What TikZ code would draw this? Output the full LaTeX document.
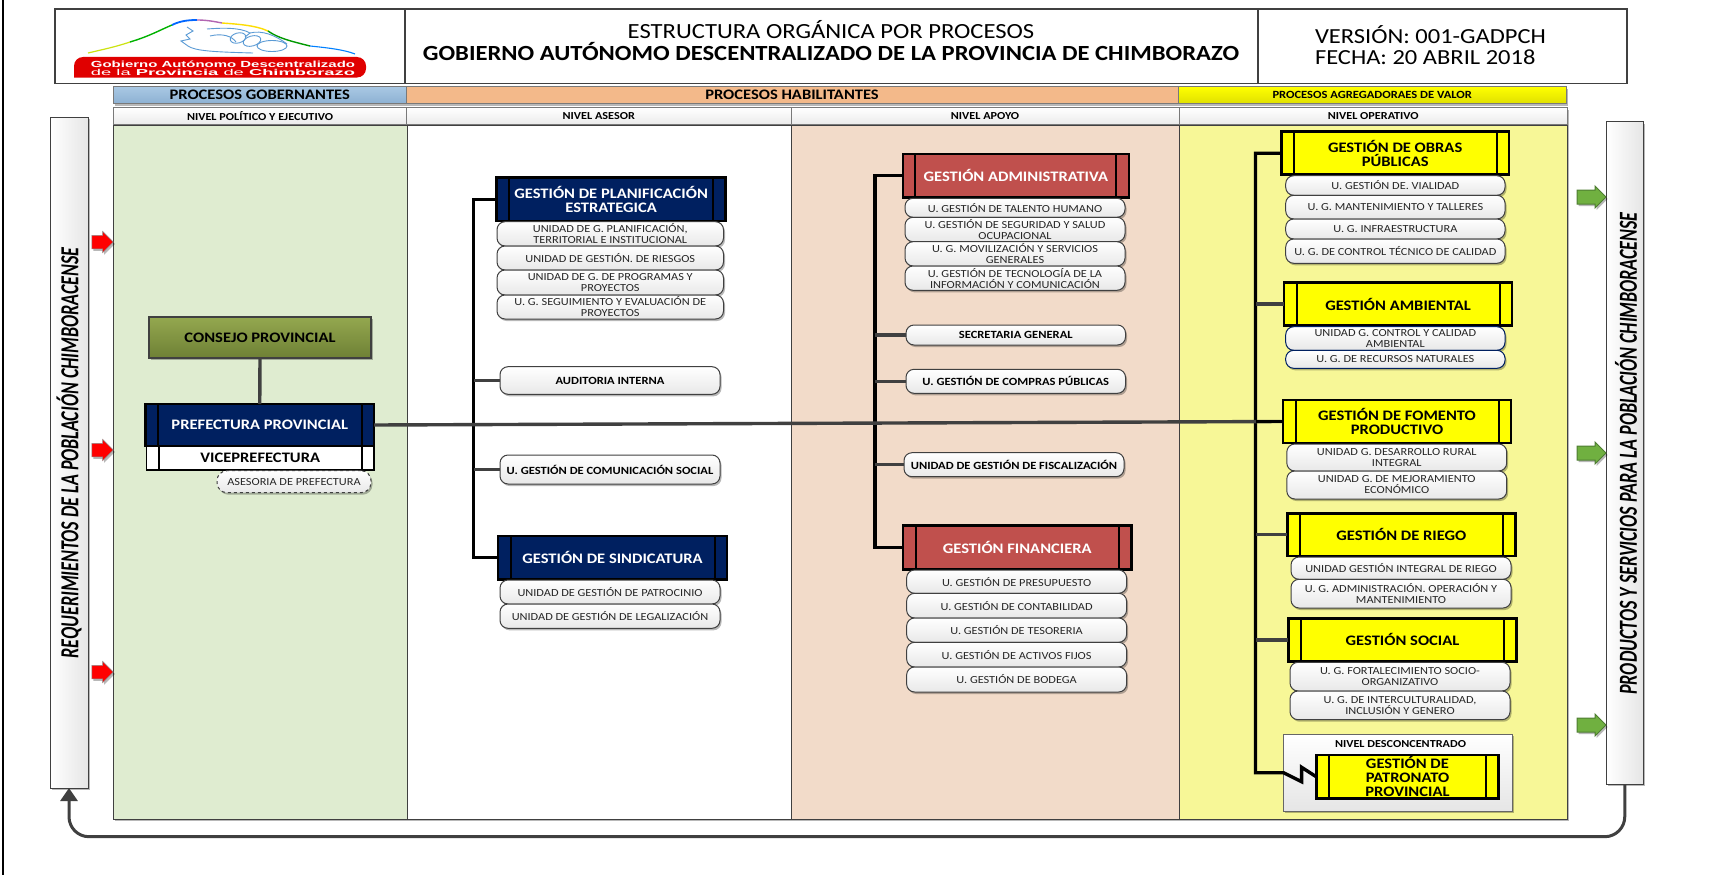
\documentclass[tikz,border=0pt]{standalone}
\usepackage{graphicx}
\usepackage{fontspec}
\setmainfont{Carlito}[FakeStretch=1.14]
\newfontfamily\logofont{Liberation Sans}
\usepackage{tikz}
\usetikzlibrary{calc,arrows.meta,positioning,shadows,shapes.arrows}
\definecolor{navy}{HTML}{002060}
\definecolor{brick}{HTML}{C0504D}
\definecolor{linegray}{HTML}{404040}
\definecolor{goldfill}{HTML}{FFFF00}
\definecolor{handblue}{HTML}{5B9BD5}
\definecolor{leaf}{HTML}{70B040}
\definecolor{leafline}{HTML}{4E7D32}
\tikzset{
    every node/.style={inner sep=0pt,outer sep=0pt,align=center},
    softshadow/.style={drop shadow={shadow xshift=1.5pt,shadow yshift=-2pt,fill=black,opacity=0.28}},
    head cell/.style={draw=linegray,line width=1.2pt,fill=white},
    band cell/.style={draw=linegray!70,line width=1pt,font=\bfseries\fontsize{14.5}{16}\selectfont,softshadow},
    level cell/.style={draw=linegray!70,line width=1pt,top color=white,bottom color=black!8,font=\bfseries\fontsize{10.7}{11}\selectfont,softshadow},
    column cell/.style={draw=linegray,line width=1pt,softshadow},
    side bar/.style={draw=linegray,line width=1pt,left color=white,right color=black!10,softshadow},
    proc box/.style={draw=black,line width=2.6pt,font=\bfseries\fontsize{14.5}{14}\selectfont,
        path picture={
            \draw[black,line width=2pt] ([xshift=12.5pt]path picture bounding box.north west) -- ([xshift=12.5pt]path picture bounding box.south west);
            \draw[black,line width=2pt] ([xshift=-12.5pt]path picture bounding box.north east) -- ([xshift=-12.5pt]path picture bounding box.south east);
        }},
    navy box/.style={proc box,fill=navy,text=white},
    brick box/.style={proc box,fill=brick,text=white},
    gold box/.style={proc box,fill=goldfill,text=black},
    sub box/.style={draw=linegray,line width=1pt,rounded corners=8pt,top color=white,bottom color=black!9,
        text=black!85,font=\fontsize{10.8}{11}\selectfont,softshadow},
    key box/.style={sub box,text=black,font=\bfseries\fontsize{11}{12}\selectfont},
    blue box/.style={sub box,draw=navy},
    trunk/.style={draw=black,line width=3.4pt,line join=miter},
    branch/.style={draw=linegray,line width=3.4pt},
    red arrow/.style={single arrow,single arrow head extend=4pt,inner ysep=6.5pt,minimum height=21.5pt,
        draw=linegray!60,line width=0.5pt,fill=red,softshadow},
    green arrow/.style={single arrow,single arrow head extend=4pt,inner ysep=6.5pt,minimum height=29pt,
        draw=leafline,line width=1pt,fill=leaf,softshadow},
    hand line/.style={handblue,line width=0.9pt},
}
\newcommand{\boxnode}[7]{\node[#1,minimum width={(#5-#3)*1pt},minimum height={(#6-#4)*1pt}] (#2) at ({(#3+#5)/2},{(#4+#6)/2}) {#7};}

\begin{document}
\begin{tikzpicture}[x=1pt,y=-1pt]

    \useasboundingbox (0,0) rectangle (1720,875);
    \draw[black,line width=2pt] (3,0) -- (3,875);

    % encabezado
    \boxnode{head cell}{logo}{55}{9}{405}{83.5}{}
    \boxnode{head cell}{title}{405}{9}{1258}{83.5}{}
    \boxnode{head cell}{version}{1258}{9}{1627}{83.5}{}
    \node[font=\fontsize{21.6}{22}\selectfont] (title a) at (831,30) {ESTRUCTURA ORGÁNICA POR PROCESOS};
    \node[font=\bfseries\fontsize{21.6}{22}\selectfont] (title b) at (831,51.5) {GOBIERNO AUTÓNOMO DESCENTRALIZADO DE LA PROVINCIA DE CHIMBORAZO};
    \node[anchor=west,font=\fontsize{21.5}{22}\selectfont] (version a) at (1315,34.5) {VERSIÓN: 001-GADPCH};
    \node[anchor=west,font=\fontsize{21.5}{22}\selectfont] (version b) at (1315,57.3) {FECHA: 20 ABRIL 2018};

    % logo
    \fill[red!88!black,rounded corners=9pt] (74,77.5) -- (74,57) -- (366,57) -- (366,77.5) [sharp corners] -- cycle;
    \node[text=white] (logo a) at (223,64) {\resizebox{264pt}{6.5pt}{\logofont\bfseries Gobierno Autónomo Descentralizado}};
    \node[text=white] (logo b) at (223,72.5) {\resizebox{264pt}{6.2pt}{\logofont de la \bfseries Provincia \mdseries de \bfseries Chimborazo}};
    \draw[line width=1.2pt,yellow!80!green] (88,53) .. controls (105,49) and (115,47) .. (130,42);
    \draw[line width=1.4pt,green!70!black] (130,42) .. controls (150,36) and (160,30) .. (172,25);
    \draw[line width=1.8pt,blue!60!cyan] (172,25) .. controls (180,21) and (188,20) .. (197,20);
    \draw[line width=1.4pt,violet!60] (197,20) .. controls (205,20) and (212,21) .. (222,23);
    \draw[line width=1.4pt,yellow!80!orange] (222,23) .. controls (235,24) and (255,25) .. (268,31);
    \draw[line width=1.4pt,green!60!black] (268,31) .. controls (278,38) and (290,41) .. (310,46);
    \draw[line width=1.1pt,blue!50!cyan] (310,46) .. controls (330,48) and (345,50) .. (355,54);
    \draw[hand line] (187,27) -- (193,31) -- (186,35) -- (190,39) -- (181,41) -- (188,46) .. controls (195,51) and (215,52) .. (253,53);
    \draw[hand line] (207,29) .. controls (220,28) and (240,27) .. (250,33) -- (245,37);
    \draw[hand line] (210,36) .. controls (222,33) and (232,36) .. (236,42);
    \draw[hand line,rotate around={15:(238,38)}] (238,38) ellipse [x radius=8,y radius=5];
    \draw[hand line,rotate around={15:(252,41)}] (252,41) ellipse [x radius=9,y radius=5];
    \draw[hand line] (272,46) ellipse [x radius=15,y radius=5.5];
    \draw[hand line] (250,33) .. controls (262,30) and (275,35) .. (287,44);

    % bandas de procesos
    \definecolor{bandtop}{HTML}{A9C8E3}
    \definecolor{bandlow}{HTML}{8DB1D3}
    \definecolor{bandmid}{HTML}{F3B98A}
    \boxnode{band cell,top color=bandtop,bottom color=bandlow}{band a}{113.5}{86.5}{406}{103.5}{PROCESOS GOBERNANTES}
    \boxnode{band cell,fill=bandmid}{band b}{406}{86.5}{1178}{103.5}{PROCESOS HABILITANTES}
    \boxnode{band cell,top color=goldfill,bottom color=goldfill!88!black,font=\bfseries\fontsize{11}{12}\selectfont}{band c}{1178}{86.5}{1566.5}{103.5}{PROCESOS AGREGADORAES DE VALOR}

    \boxnode{level cell}{level a}{113.5}{107.7}{406.5}{124.5}{NIVEL POLÍTICO Y EJECUTIVO}
    \boxnode{level cell}{level b}{406.5}{107.7}{791}{124.5}{NIVEL ASESOR}
    \boxnode{level cell}{level c}{791}{107.7}{1179}{124.5}{NIVEL APOYO}
    \boxnode{level cell}{level d}{1179}{107.7}{1567.5}{124.5}{NIVEL OPERATIVO}

    \definecolor{colgreen}{HTML}{DFECD0}
    \definecolor{colpeach}{HTML}{F2DBC9}
    \definecolor{colyellow}{HTML}{F7F797}
    \boxnode{column cell,fill=colgreen}{col a}{113.5}{125}{407}{819}{}
    \boxnode{column cell,fill=white}{col b}{407}{125}{791}{819}{}
    \boxnode{column cell,fill=colpeach}{col c}{791}{125}{1179}{819}{}
    \boxnode{column cell,fill=colyellow}{col d}{1179}{125}{1567}{819}{}

    % barras laterales
    \boxnode{side bar}{lbar}{50}{117}{88}{788}{}
    \boxnode{side bar}{rbar}{1606.5}{121.7}{1643}{784}{}
    \node[rotate=90,font=\bfseries\itshape\fontsize{26}{28}\selectfont] (lbar text) at (69,453) {\scalebox{0.608}[1]{REQUERIMIENTOS DE LA POBLACIÓN CHIMBORACENSE}};
    \node[rotate=90,font=\bfseries\itshape\fontsize{26}{28}\selectfont] (rbar text) at (1626,453.5) {\scalebox{0.608}[1]{PRODUCTOS Y SERVICIOS PARA LA POBLACIÓN CHIMBORACENSE}};

    \foreach \n/\y in {a/242,b/450,c/672} \node[red arrow] (red \n) at (99.2,\y) {};
    \foreach \n/\y in {a/197,b/453,c/725} \node[green arrow] (green \n) at (1588,\y) {};

    % nivel politico
    \definecolor{olivetop}{HTML}{94A84F}
    \definecolor{olivelow}{HTML}{6E8035}
    \boxnode{draw=linegray,line width=2pt,top color=olivetop,bottom color=olivelow,font=\bfseries\fontsize{14.5}{16}\selectfont,softshadow}{consejo}{149}{317}{371}{358}{CONSEJO PROVINCIAL}
    \boxnode{proc box,fill=white,draw=black,line width=1.4pt}{vice}{146.5}{446}{374}{470}{VICEPREFECTURA}
    \boxnode{navy box}{pref}{145.5}{404}{374}{446}{PREFECTURA PROVINCIAL}
    \boxnode{sub box,dashed,rounded corners=10pt}{asesor}{217}{470.7}{371}{492.7}{ASESORIA DE PREFECTURA}
    \draw[branch] (consejo.south) -- (pref.north);

    % nivel asesor
    \coordinate (trunk a) at (473.5,0);
    \boxnode{navy box}{plan}{496.5}{177.7}{725.7}{221}{GESTIÓN DE PLANIFICACIÓN\\ESTRATEGICA}
    \boxnode{sub box}{plan a}{497}{221.7}{723.5}{246}{UNIDAD DE G. PLANIFICACIÓN,\\TERRITORIAL E INSTITUCIONAL}
    \boxnode{sub box}{plan b}{497}{246}{723.5}{270}{UNIDAD DE GESTIÓN. DE RIESGOS}
    \boxnode{sub box}{plan c}{497}{270}{723.5}{295}{UNIDAD DE G. DE PROGRAMAS Y\\PROYECTOS}
    \boxnode{sub box}{plan d}{497}{295}{723.5}{319}{U. G. SEGUIMIENTO Y EVALUACIÓN DE\\PROYECTOS}
    \boxnode{key box}{audit}{500}{366.7}{720}{394.3}{AUDITORIA INTERNA}
    \boxnode{key box}{comu}{500}{455}{720}{484}{U. GESTIÓN DE COMUNICACIÓN SOCIAL}
    \boxnode{navy box}{sind}{498}{536}{727}{579.3}{GESTIÓN DE SINDICATURA}
    \boxnode{sub box}{sind a}{500}{580}{720}{604}{UNIDAD DE GESTIÓN DE PATROCINIO}
    \boxnode{sub box}{sind b}{500}{604}{720}{628.3}{UNIDAD DE GESTIÓN DE LEGALIZACIÓN}

    % nivel apoyo
    \coordinate (trunk b) at (875,0);
    \boxnode{brick box}{admin}{902.8}{154}{1128.8}{197.3}{GESTIÓN ADMINISTRATIVA}
    \boxnode{sub box}{admin a}{905}{198.3}{1125}{217.3}{U. GESTIÓN DE TALENTO HUMANO}
    \boxnode{sub box}{admin b}{905}{217.3}{1125}{241.7}{U. GESTIÓN DE SEGURIDAD Y SALUD\\OCUPACIONAL}
    \boxnode{sub box}{admin c}{905}{241.7}{1125}{266}{U. G. MOVILIZACIÓN Y SERVICIOS\\GENERALES}
    \boxnode{sub box}{admin d}{905}{266}{1125}{290.3}{U. GESTIÓN DE TECNOLOGÍA DE LA\\INFORMACIÓN Y COMUNICACIÓN}
    \boxnode{key box}{secre}{906}{325}{1125.5}{345}{SECRETARIA GENERAL}
    \boxnode{key box}{compras}{906}{369.3}{1125.5}{393.3}{U. GESTIÓN DE COMPRAS PÚBLICAS}
    \boxnode{key box}{fisca}{904}{452.7}{1124}{476.7}{UNIDAD DE GESTIÓN DE FISCALIZACIÓN}
    \boxnode{brick box}{finan}{903}{525.7}{1131.5}{569.3}{GESTIÓN FINANCIERA}
    \boxnode{sub box}{finan a}{906.6}{570}{1126.6}{593.3}{U. GESTIÓN DE PRESUPUESTO}
    \boxnode{sub box}{finan b}{906.6}{593.3}{1126.6}{618}{U. GESTIÓN DE CONTABILIDAD}
    \boxnode{sub box}{finan c}{906.6}{618}{1126.6}{642.3}{U. GESTIÓN DE TESORERIA}
    \boxnode{sub box}{finan d}{906.6}{642.3}{1126.6}{667}{U. GESTIÓN DE ACTIVOS FIJOS}
    \boxnode{sub box}{finan e}{906.6}{667}{1126.6}{692}{U. GESTIÓN DE BODEGA}

    % nivel operativo
    \coordinate (trunk c) at (1255.5,0);
    \boxnode{gold box}{obras}{1281.3}{131.7}{1509}{174.7}{GESTIÓN DE OBRAS\\PÚBLICAS}
    \boxnode{sub box}{obras a}{1285.7}{175.7}{1505}{195.3}{U. GESTIÓN DE. VIALIDAD}
    \boxnode{sub box}{obras b}{1285.7}{195.3}{1505}{219}{U. G. MANTENIMIENTO Y TALLERES}
    \boxnode{sub box}{obras c}{1285.7}{219}{1505}{239}{U. G. INFRAESTRUCTURA}
    \boxnode{sub box}{obras d}{1285.7}{239}{1505}{263.3}{U. G. DE CONTROL TÉCNICO DE CALIDAD}
    \boxnode{gold box}{ambi}{1284}{282.7}{1512}{325.3}{GESTIÓN AMBIENTAL}
    \boxnode{blue box}{ambi a}{1285.7}{326.7}{1505}{350.3}{UNIDAD G. CONTROL Y CALIDAD\\AMBIENTAL}
    \boxnode{blue box}{ambi b}{1285.7}{350.3}{1505}{368.3}{U. G. DE RECURSOS NATURALES}
    \boxnode{gold box}{fomento}{1283}{400}{1511}{443}{GESTIÓN DE FOMENTO\\PRODUCTIVO}
    \boxnode{sub box}{fomento a}{1286.8}{444}{1506.7}{471}{UNIDAD G. DESARROLLO RURAL\\INTEGRAL}
    \boxnode{sub box}{fomento b}{1286.8}{471}{1506.7}{499}{UNIDAD G. DE MEJORAMIENTO\\ECONÓMICO}
    \boxnode{gold box}{riego}{1287.3}{513.3}{1515.5}{556}{GESTIÓN DE RIEGO}
    \boxnode{sub box}{riego a}{1291}{557}{1511}{579.3}{UNIDAD GESTIÓN INTEGRAL DE RIEGO}
    \boxnode{sub box}{riego b}{1291}{579.3}{1511}{608}{U. G. ADMINISTRACIÓN. OPERACIÓN Y\\MANTENIMIENTO}
    \boxnode{gold box}{social}{1288.4}{618.3}{1516.6}{661.3}{GESTIÓN SOCIAL}
    \boxnode{sub box}{social a}{1290}{662.3}{1510}{691}{U. G. FORTALECIMIENTO SOCIO-\\ORGANIZATIVO}
    \boxnode{sub box}{social b}{1290}{691}{1510}{719.7}{U. G. DE INTERCULTURALIDAD,\\INCLUSIÓN Y GENERO}
    \boxnode{draw=linegray!80,line width=1pt,top color=white,bottom color=black!10,softshadow}{desc}{1283.5}{734.3}{1512.8}{811}{}
    \node[font=\bfseries\fontsize{10.7}{11}\selectfont] (desc text) at (1400.5,744) {NIVEL DESCONCENTRADO};
    \boxnode{gold box}{patro}{1316.4}{755}{1498.5}{798.7}{GESTIÓN DE\\PATRONATO\\PROVINCIAL}

    % conectores
    \draw[trunk] (plan.west) -- (plan.west -| trunk a) -- (sind.west -| trunk a) -- (sind.west);
    \draw[trunk] (admin.west) -- (admin.west -| trunk b) -- (finan.west -| trunk b) -- (finan.west);
    \coordinate (zig a) at (1283.5,772.7);
    \coordinate (zig b) at (1301.6,781.7);
    \coordinate (zig c) at (1301.6,767.3);
    \draw[trunk] (obras.west) -- (obras.west -| trunk c) -- (zig a -| trunk c) -- (zig a) -- (zig b) -- (zig c) -- (patro.west);
    \foreach \n/\t in {audit/a,comu/a,secre/b,compras/b,fisca/b,ambi/c,riego/c,social/c}
        \draw[branch] (\n.west) -- (\n.west -| trunk \t);
    \draw[branch] (pref.east) -- (fomento.west);
    \draw[trunk] (fomento.west -| trunk c) -- (fomento.west);

    % retorno
    \coordinate (back) at (0,836.7);
    \draw[linegray,line width=3pt,rounded corners=20pt,-{Triangle[length=13pt,width=17pt]}] (rbar.south) -- (rbar.south |- back) -- (lbar.south |- back) -- (lbar.south);

\end{tikzpicture}
\end{document}
